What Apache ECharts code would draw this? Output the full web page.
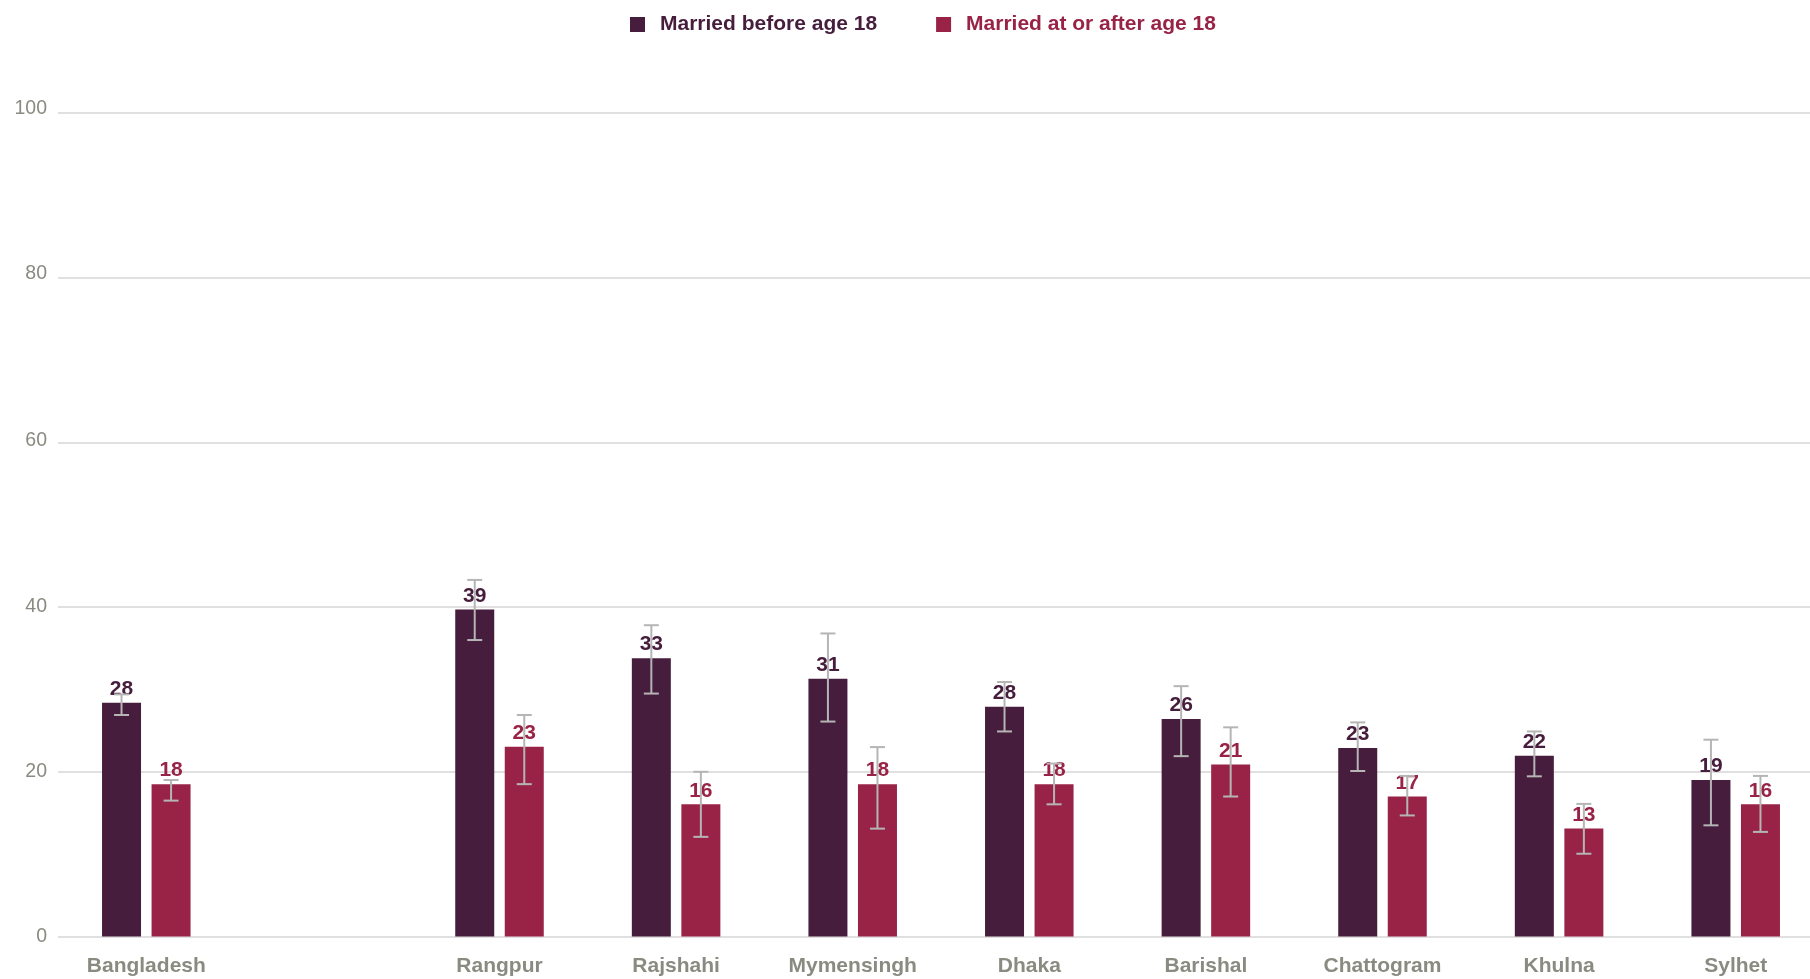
<!DOCTYPE html>
<html>
<head>
<meta charset="utf-8">
<script src="https://cdn.jsdelivr.net/npm/echarts@6/dist/echarts.min.js"></script>
<style>
html,body{margin:0;padding:0;background:#fff;overflow:hidden;}
#chart{width:1824px;height:979px;}
</style>
</head>
<body>
<div id="chart"></div>
<script>
const categories = ['Bangladesh', '', 'Rangpur', 'Rajshahi', 'Mymensingh', 'Dhaka', 'Barishal', 'Chattogram', 'Khulna', 'Sylhet'];
const seriesNames = ['Married before age 18', 'Married at or after age 18'];

const beforeValues = [28.4, null, 39.7, 33.8, 31.3, 27.9, 26.4, 22.9, 21.95, 19.0];
const beforeLabels = ['28', '', '39', '33', '31', '28', '26', '23', '22', '19'];
const beforeLow  = [26.9, null, 36.0, 29.5, 26.1, 24.9, 21.9, 20.1, 19.45, 13.5];
const beforeHigh = [29.4, null, 43.3, 37.8, 36.8, 30.9, 30.4, 26.0, 24.9, 23.9];

const afterValues = [18.5, null, 23.05, 16.05, 18.5, 18.5, 20.9, 17.0, 13.1, 16.05];
const afterLabels = ['18', '', '23', '16', '18', '18', '21', '17', '13', '16'];
const afterLow  = [16.5, null, 18.5, 12.1, 13.1, 16.05, 17.0, 14.7, 10.05, 12.7];
const afterHigh = [19.0, null, 26.9, 20.0, 23.0, 21.0, 25.4, 19.5, 16.1, 19.5];

const yTicks = [0, 20, 40, 60, 80, 100];

const colors = ['#461d3c', '#982347'];
const BAR_W = 39;
const GAP_RATIO = 0.27;
const OFFSET = (BAR_W + BAR_W * GAP_RATIO) / 2;
// small upward nudges of some y tick labels, as in the reference
const Y_LABEL_RAISE = { 100: 6, 80: 5, 60: 2 };

function errData(low, high) {
  const out = [];
  low.forEach((l, i) => { if (l != null) out.push([i, l, high[i]]); });
  return out;
}

function errRender(offset) {
  return function (params, api) {
    const idx = api.value(0);
    const x = api.coord([idx, 0])[0] + offset;
    const yLo = api.coord([idx, api.value(1)])[1];
    const yHi = api.coord([idx, api.value(2)])[1];
    const cap = 7.5;
    const style = { stroke: '#b5b5b5', lineWidth: 2, fill: null };
    return {
      type: 'group',
      children: [
        { type: 'line', shape: { x1: x, y1: yLo, x2: x, y2: yHi }, style },
        { type: 'line', shape: { x1: x - cap, y1: yLo, x2: x + cap, y2: yLo }, style },
        { type: 'line', shape: { x1: x - cap, y1: yHi, x2: x + cap, y2: yHi }, style }
      ]
    };
  };
}

function barLabel(labels, color) {
  return {
    show: true,
    position: 'top',
    distance: 3,
    color: color,
    fontFamily: 'Liberation Sans, Arial, sans-serif',
    fontWeight: 'bold',
    fontSize: 21,
    formatter: p => labels[p.dataIndex]
  };
}

const yRich = {};
yTicks.forEach(v => {
  const r = Y_LABEL_RAISE[v] || 0;
  yRich['v' + v] = {
    color: '#8a8b80',
    fontFamily: 'Liberation Sans, Arial, sans-serif',
    fontSize: 19.5,
    padding: [0, 0, 1.5 * r, 0]
  };
});

const chart = echarts.init(document.getElementById('chart'), null, { renderer: 'canvas' });
chart.setOption({
  animation: false,
  backgroundColor: '#ffffff',
  color: colors,
  legend: {
    data: seriesNames.map((n, i) => ({ name: n, textStyle: { color: colors[i] } })),
    left: 630,
    top: 14,
    padding: 0,
    itemWidth: 15,
    itemHeight: 15,
    itemGap: 59,
    icon: 'rect',
    selectedMode: false,
    textStyle: {
      fontFamily: 'Liberation Sans, Arial, sans-serif',
      fontWeight: 'bold',
      fontSize: 21,
      padding: [0, 0, 0, 10]
    }
  },
  grid: {
    left: 58,
    top: 113,
    right: 0,
    bottom: 42.5,
    containLabel: false
  },
  xAxis: {
    type: 'category',
    data: categories,
    axisLine: { show: false },
    axisTick: { show: false },
    axisLabel: {
      margin: 19,
      color: '#8a8b80',
      fontFamily: 'Liberation Sans, Arial, sans-serif',
      fontWeight: 'bold',
      fontSize: 21,
      interval: 0
    }
  },
  yAxis: {
    type: 'value',
    min: yTicks[0],
    max: yTicks[yTicks.length - 1],
    interval: yTicks[1] - yTicks[0],
    axisLine: { show: false },
    axisTick: { show: false },
    axisLabel: {
      margin: 11,
      formatter: v => '{v' + v + '|' + v + '}',
      rich: yRich
    },
    splitLine: { show: true, lineStyle: { color: '#e0e0e0', width: 2 } }
  },
  series: [
    {
      name: seriesNames[0],
      type: 'bar',
      data: beforeValues,
      barWidth: BAR_W,
      barGap: (GAP_RATIO * 100) + '%',
      itemStyle: { color: colors[0] },
      label: barLabel(beforeLabels, colors[0]),
      z: 2
    },
    {
      name: seriesNames[1],
      type: 'bar',
      data: afterValues,
      barWidth: BAR_W,
      barGap: (GAP_RATIO * 100) + '%',
      itemStyle: { color: colors[1] },
      label: barLabel(afterLabels, colors[1]),
      z: 2
    },
    {
      name: 'err-before',
      type: 'custom',
      data: errData(beforeLow, beforeHigh),
      renderItem: errRender(-OFFSET),
      z: 5,
      silent: true
    },
    {
      name: 'err-after',
      type: 'custom',
      data: errData(afterLow, afterHigh),
      renderItem: errRender(OFFSET),
      z: 5,
      silent: true
    }
  ]
});
</script>
</body>
</html>
